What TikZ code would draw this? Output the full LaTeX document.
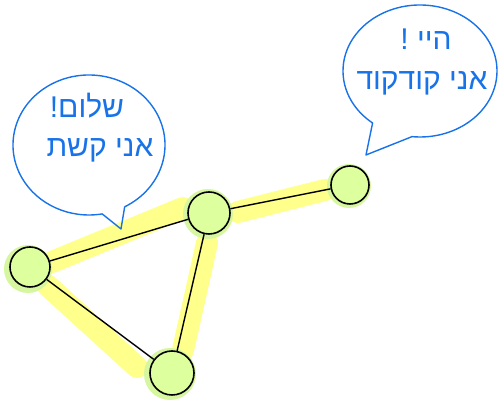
\documentclass[tikz,border=0pt]{standalone}
\usepackage{fontspec}
\newfontfamily\hebfont[Script=Hebrew]{Liberation Sans}
\TeXXeTstate=1
\definecolor{penblue}{RGB}{25,115,232}
\definecolor{hiyellow}{RGB}{255,255,140}
\definecolor{halo}{RGB}{214,246,160}
\definecolor{vfill}{RGB}{222,255,158}
\tikzset{
  x=1pt,y=1pt,
  vertex/.style={circle,draw=black,line width=1.6pt,fill=vfill,inner sep=0pt},
  edge/.style={draw=black,line width=1.4pt},
  band/.style={draw=hiyellow,line width=22pt,line cap=round},
  halo/.style={fill=halo},
  bubble/.style={draw=penblue,line width=1.4pt,line join=round},
  hebtext/.style={text=penblue,font=\hebfont\fontsize{30}{34}\selectfont,inner sep=0pt,anchor=base}
}
\begin{document}
\begin{tikzpicture}
\useasboundingbox (0,0) rectangle (499,403);
% highlight bands
\draw[band] (52,141) -- (183,195);
\draw[band] (238,191) -- (325,213);
\draw[band] (47,118) -- (137,36);
\draw[band] (207,160) -- (183,53);
% halos
\fill[halo] (28,134) circle (24);
\fill[halo] (208,189) circle (25);
\fill[halo] (170,29) circle (26);
\fill[halo] (349,217) circle (22);
% vertices
\node[vertex,minimum size=40pt] (a) at (30,136) {};
\node[vertex,minimum size=42pt] (b) at (209,190) {};
\node[vertex,minimum size=44pt] (c) at (172,30) {};
\node[vertex,minimum size=38pt] (d) at (350,218) {};
% edges
\draw[edge] (a) -- (b);
\draw[edge] (b) -- (d);
\draw[edge] (a) -- (c);
\draw[edge] (b) -- (c);
% bubble 1
\coordinate (b1c) at (89,258);
\coordinate (b1tip) at (121,174);
\draw[bubble] (b1c) ++(-62:76pt and 70pt) coordinate (b1s)
  arc[start angle=-62,end angle=280,x radius=76pt,y radius=70pt]
  -- (b1tip) -- (b1s);
% bubble 2
\coordinate (b2c) at (420,332);
\coordinate (b2tip) at (366,248);
\draw[bubble] (b2c) ++(264:77pt and 66pt) coordinate (b2s)
  arc[start angle=264,end angle=592,x radius=77pt,y radius=66pt]
  -- (b2tip) -- (b2s);
% texts
\node[hebtext] (t1) at (87,285) {\beginR שלום!\endR};
\node[hebtext] (t2) at (100,246) {\beginR אני קשת\endR};
\node[hebtext] (t3) at (426,353) {\beginR היי !\endR};
\node[hebtext] (t4) at (422,313) {\beginR אני קודקוד\endR};
\end{tikzpicture}
\end{document}
